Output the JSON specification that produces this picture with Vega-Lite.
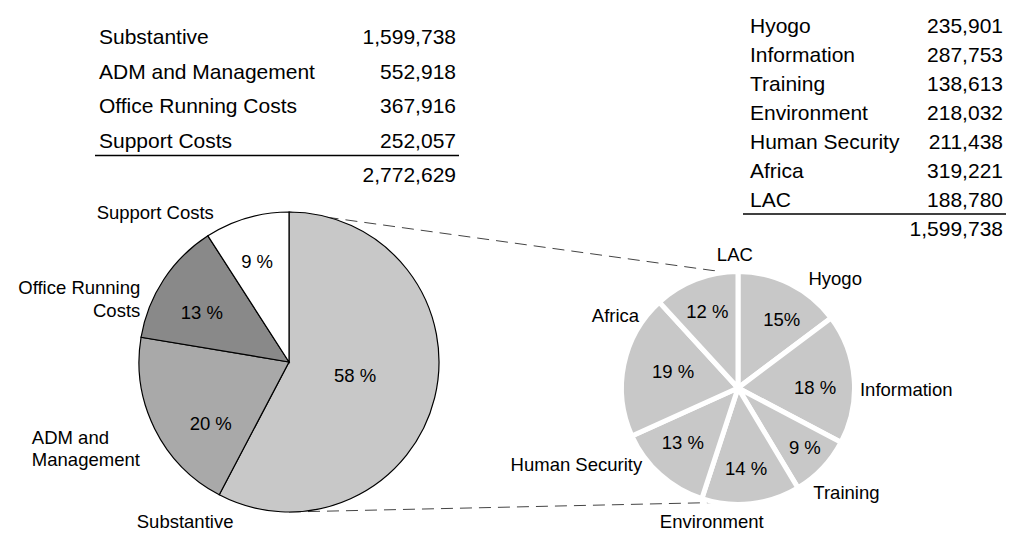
{
  "$schema": "https://vega.github.io/schema/vega-lite/v6.json",
  "width": 1011,
  "height": 533,
  "autosize": {"type": "none"},
  "padding": 0,
  "background": "white",
  "config": {"font": "Liberation Sans", "view": {"stroke": null}},
  "datasets": {
    "costs": [
      {"i": 0, "name": "Substantive", "value": 1599738, "pct": "58 %", "label": "Substantive"},
      {"i": 1, "name": "ADM and Management", "value": 552918, "pct": "20 %", "label": "ADM and\nManagement"},
      {"i": 2, "name": "Office Running Costs", "value": 367916, "pct": "13 %", "label": "Office Running\nCosts"},
      {"i": 3, "name": "Support Costs", "value": 252057, "pct": "9 %", "label": "Support Costs"}
    ],
    "substantive": [
      {"i": 0, "name": "Hyogo", "value": 235901, "pct": "15%"},
      {"i": 1, "name": "Information", "value": 287753, "pct": "18 %"},
      {"i": 2, "name": "Training", "value": 138613, "pct": "9 %"},
      {"i": 3, "name": "Environment", "value": 218032, "pct": "14 %"},
      {"i": 4, "name": "Human Security", "value": 211438, "pct": "13 %"},
      {"i": 5, "name": "Africa", "value": 319221, "pct": "19 %"},
      {"i": 6, "name": "LAC", "value": 188780, "pct": "12 %"}
    ]
  },
  "layer": [
    {
      "data": {"values": [{}]},
      "mark": {"type": "rule", "color": "#444444", "strokeWidth": 1, "strokeDash": [12, 7]},
      "encoding": {
        "x": {"datum": 289, "type": "quantitative", "scale": {"domain": [0, 1011], "range": [0, 1011]}, "axis": null},
        "x2": {"datum": 738},
        "y": {"datum": 212, "type": "quantitative", "scale": {"domain": [0, 533], "range": [0, 533]}, "axis": null},
        "y2": {"datum": 274}
      }
    },
    {
      "data": {"values": [{}]},
      "mark": {"type": "rule", "color": "#444444", "strokeWidth": 1, "strokeDash": [12, 7]},
      "encoding": {
        "x": {"datum": 289, "type": "quantitative", "scale": {"domain": [0, 1011], "range": [0, 1011]}, "axis": null},
        "x2": {"datum": 738},
        "y": {"datum": 512, "type": "quantitative", "scale": {"domain": [0, 533], "range": [0, 533]}, "axis": null},
        "y2": {"datum": 502}
      }
    },
    {
      "data": {"name": "costs"},
      "mark": {"type": "arc", "outerRadius": 150, "stroke": "#000000", "strokeWidth": 1.2},
      "encoding": {
        "theta": {"field": "value", "type": "quantitative", "stack": true},
        "order": {"field": "i", "type": "quantitative"},
        "color": {"field": "name", "type": "nominal", "legend": null,
          "scale": {"domain": ["Substantive", "ADM and Management", "Office Running Costs", "Support Costs"],
                    "range": ["#c8c8c8", "#a9a9a9", "#898989", "#ffffff"]}},
        "x": {"datum": 289, "type": "quantitative", "scale": {"domain": [0, 1011], "range": [0, 1011]}, "axis": null},
        "y": {"datum": 362, "type": "quantitative", "scale": {"domain": [0, 533], "range": [0, 533]}, "axis": null}
      }
    },
    {
      "data": {"name": "costs"},
      "mark": {"type": "text", "fontSize": 18.5, "color": "#000000",
        "radius": {"expr": "({'Substantive':67.5,'ADM and Management':100,'Office Running Costs':100,'Support Costs':105})[datum.name]"},
        "thetaOffset": {"expr": "({'Substantive':-0.032,'ADM and Management':-0.211,'Office Running Costs':-0.07,'Support Costs':-0.023})[datum.name]"}},
      "encoding": {
        "theta": {"field": "value", "type": "quantitative", "stack": true},
        "order": {"field": "i", "type": "quantitative"},
        "text": {"field": "pct", "type": "nominal"},
        "x": {"datum": 289, "type": "quantitative", "scale": {"domain": [0, 1011], "range": [0, 1011]}, "axis": null},
        "y": {"datum": 362, "type": "quantitative", "scale": {"domain": [0, 533], "range": [0, 533]}, "axis": null}
      }
    },
    {
      "data": {"name": "costs"},
      "mark": {"type": "text", "fontSize": 18.5, "color": "#000000", "lineBreak": "\n", "lineHeight": 22.5,
        "radius": {"expr": "({'Substantive':191,'ADM and Management':268,'Office Running Costs':166,'Support Costs':200})[datum.name]"},
        "thetaOffset": {"expr": "({'Substantive':1.904,'ADM and Management':0.175,'Office Running Costs':-0.122,'Support Costs':-0.447})[datum.name]"},
        "align": {"expr": "({'Substantive':'center','ADM and Management':'left','Office Running Costs':'right','Support Costs':'center'})[datum.name]"}},
      "encoding": {
        "theta": {"field": "value", "type": "quantitative", "stack": true},
        "order": {"field": "i", "type": "quantitative"},
        "text": {"field": "label", "type": "nominal"},
        "x": {"datum": 289, "type": "quantitative", "scale": {"domain": [0, 1011], "range": [0, 1011]}, "axis": null},
        "y": {"datum": 362, "type": "quantitative", "scale": {"domain": [0, 533], "range": [0, 533]}, "axis": null}
      }
    },
    {
      "data": {"name": "substantive"},
      "mark": {"type": "arc", "outerRadius": 116.5, "stroke": "#ffffff", "strokeWidth": 5, "fill": "#c8c8c8"},
      "encoding": {
        "theta": {"field": "value", "type": "quantitative", "stack": true},
        "order": {"field": "i", "type": "quantitative"},
        "x": {"datum": 738, "type": "quantitative", "scale": {"domain": [0, 1011], "range": [0, 1011]}, "axis": null},
        "y": {"datum": 388, "type": "quantitative", "scale": {"domain": [0, 533], "range": [0, 533]}, "axis": null}
      }
    },
    {
      "data": {"name": "substantive"},
      "mark": {"type": "text", "fontSize": 18.5, "color": "#000000",
        "radius": {"expr": "({'Hyogo':81,'Information':77,'Training':90,'Environment':81,'Human Security':78,'Africa':67,'LAC':82})[datum.name]"},
        "thetaOffset": {"expr": "({'Hyogo':0.108,'Information':0.083,'Training':-0.025,'Environment':0.013,'Human Security':0.054,'Africa':0.044,'LAC':-0.012})[datum.name]"}},
      "encoding": {
        "theta": {"field": "value", "type": "quantitative", "stack": true},
        "order": {"field": "i", "type": "quantitative"},
        "text": {"field": "pct", "type": "nominal"},
        "x": {"datum": 738, "type": "quantitative", "scale": {"domain": [0, 1011], "range": [0, 1011]}, "axis": null},
        "y": {"datum": 388, "type": "quantitative", "scale": {"domain": [0, 533], "range": [0, 533]}, "axis": null}
      }
    },
    {
      "data": {"name": "substantive"},
      "mark": {"type": "text", "fontSize": 18.5, "color": "#000000",
        "radius": {"expr": "({'Hyogo':146,'Information':122,'Training':151,'Environment':137,'Human Security':123,'Africa':142,'LAC':133})[datum.name]"},
        "thetaOffset": {"expr": "({'Hyogo':0.265,'Information':0.096,'Training':0.012,'Environment':0.305,'Human Security':0.162,'Africa':0.328,'LAC':0.347})[datum.name]"},
        "align": {"expr": "({'Hyogo':'center','Information':'left','Training':'center','Environment':'center','Human Security':'right','Africa':'center','LAC':'center'})[datum.name]"}},
      "encoding": {
        "theta": {"field": "value", "type": "quantitative", "stack": true},
        "order": {"field": "i", "type": "quantitative"},
        "text": {"field": "name", "type": "nominal"},
        "x": {"datum": 738, "type": "quantitative", "scale": {"domain": [0, 1011], "range": [0, 1011]}, "axis": null},
        "y": {"datum": 388, "type": "quantitative", "scale": {"domain": [0, 533], "range": [0, 533]}, "axis": null}
      }
    },
    {
      "data": {"name": "costs"},
      "mark": {"type": "text", "fontSize": 21, "align": "left", "baseline": "alphabetic", "color": "#000000"},
      "encoding": {
        "text": {"field": "name", "type": "nominal"},
        "x": {"datum": 99, "type": "quantitative", "scale": {"domain": [0, 1011], "range": [0, 1011]}, "axis": null},
        "y": {"field": "i", "type": "quantitative", "scale": {"domain": [0, 4], "range": [44, 182]}, "axis": null}
      }
    },
    {
      "data": {"name": "costs"},
      "mark": {"type": "text", "fontSize": 21, "align": "right", "baseline": "alphabetic", "color": "#000000"},
      "encoding": {
        "text": {"field": "value", "type": "quantitative", "format": ","},
        "x": {"datum": 456, "type": "quantitative", "scale": {"domain": [0, 1011], "range": [0, 1011]}, "axis": null},
        "y": {"field": "i", "type": "quantitative", "scale": {"domain": [0, 4], "range": [44, 182]}, "axis": null}
      }
    },
    {
      "data": {"name": "costs"},
      "transform": [{"aggregate": [{"op": "sum", "field": "value", "as": "total"}]}],
      "mark": {"type": "text", "fontSize": 21, "align": "right", "baseline": "alphabetic", "color": "#000000"},
      "encoding": {
        "text": {"field": "total", "type": "quantitative", "format": ","},
        "x": {"datum": 456, "type": "quantitative", "scale": {"domain": [0, 1011], "range": [0, 1011]}, "axis": null},
        "y": {"datum": 4, "type": "quantitative", "scale": {"domain": [0, 4], "range": [44, 182]}, "axis": null}
      }
    },
    {
      "data": {"values": [{}]},
      "mark": {"type": "rule", "color": "#000000", "strokeWidth": 1.5},
      "encoding": {
        "x": {"datum": 95, "type": "quantitative", "scale": {"domain": [0, 1011], "range": [0, 1011]}, "axis": null},
        "x2": {"datum": 459},
        "y": {"datum": 155.5, "type": "quantitative", "scale": {"domain": [0, 533], "range": [0, 533]}, "axis": null}
      }
    },
    {
      "data": {"name": "substantive"},
      "mark": {"type": "text", "fontSize": 21, "align": "left", "baseline": "alphabetic", "color": "#000000"},
      "encoding": {
        "text": {"field": "name", "type": "nominal"},
        "x": {"datum": 750, "type": "quantitative", "scale": {"domain": [0, 1011], "range": [0, 1011]}, "axis": null},
        "y": {"field": "i", "type": "quantitative", "scale": {"domain": [0, 6], "range": [33, 207]}, "axis": null}
      }
    },
    {
      "data": {"name": "substantive"},
      "mark": {"type": "text", "fontSize": 21, "align": "right", "baseline": "alphabetic", "color": "#000000"},
      "encoding": {
        "text": {"field": "value", "type": "quantitative", "format": ","},
        "x": {"datum": 1003, "type": "quantitative", "scale": {"domain": [0, 1011], "range": [0, 1011]}, "axis": null},
        "y": {"field": "i", "type": "quantitative", "scale": {"domain": [0, 6], "range": [33, 207]}, "axis": null}
      }
    },
    {
      "data": {"name": "substantive"},
      "transform": [{"aggregate": [{"op": "sum", "field": "value", "as": "total"}]}],
      "mark": {"type": "text", "fontSize": 21, "align": "right", "baseline": "alphabetic", "color": "#000000"},
      "encoding": {
        "text": {"field": "total", "type": "quantitative", "format": ","},
        "x": {"datum": 1003, "type": "quantitative", "scale": {"domain": [0, 1011], "range": [0, 1011]}, "axis": null},
        "y": {"datum": 7, "type": "quantitative", "scale": {"domain": [0, 6], "range": [33, 207]}, "axis": null}
      }
    },
    {
      "data": {"values": [{}]},
      "mark": {"type": "rule", "color": "#000000", "strokeWidth": 1.5},
      "encoding": {
        "x": {"datum": 743, "type": "quantitative", "scale": {"domain": [0, 1011], "range": [0, 1011]}, "axis": null},
        "x2": {"datum": 1006},
        "y": {"datum": 214, "type": "quantitative", "scale": {"domain": [0, 533], "range": [0, 533]}, "axis": null}
      }
    }
  ],
  "resolve": {"scale": {"x": "independent", "y": "independent", "theta": "independent", "color": "independent"}}
}
